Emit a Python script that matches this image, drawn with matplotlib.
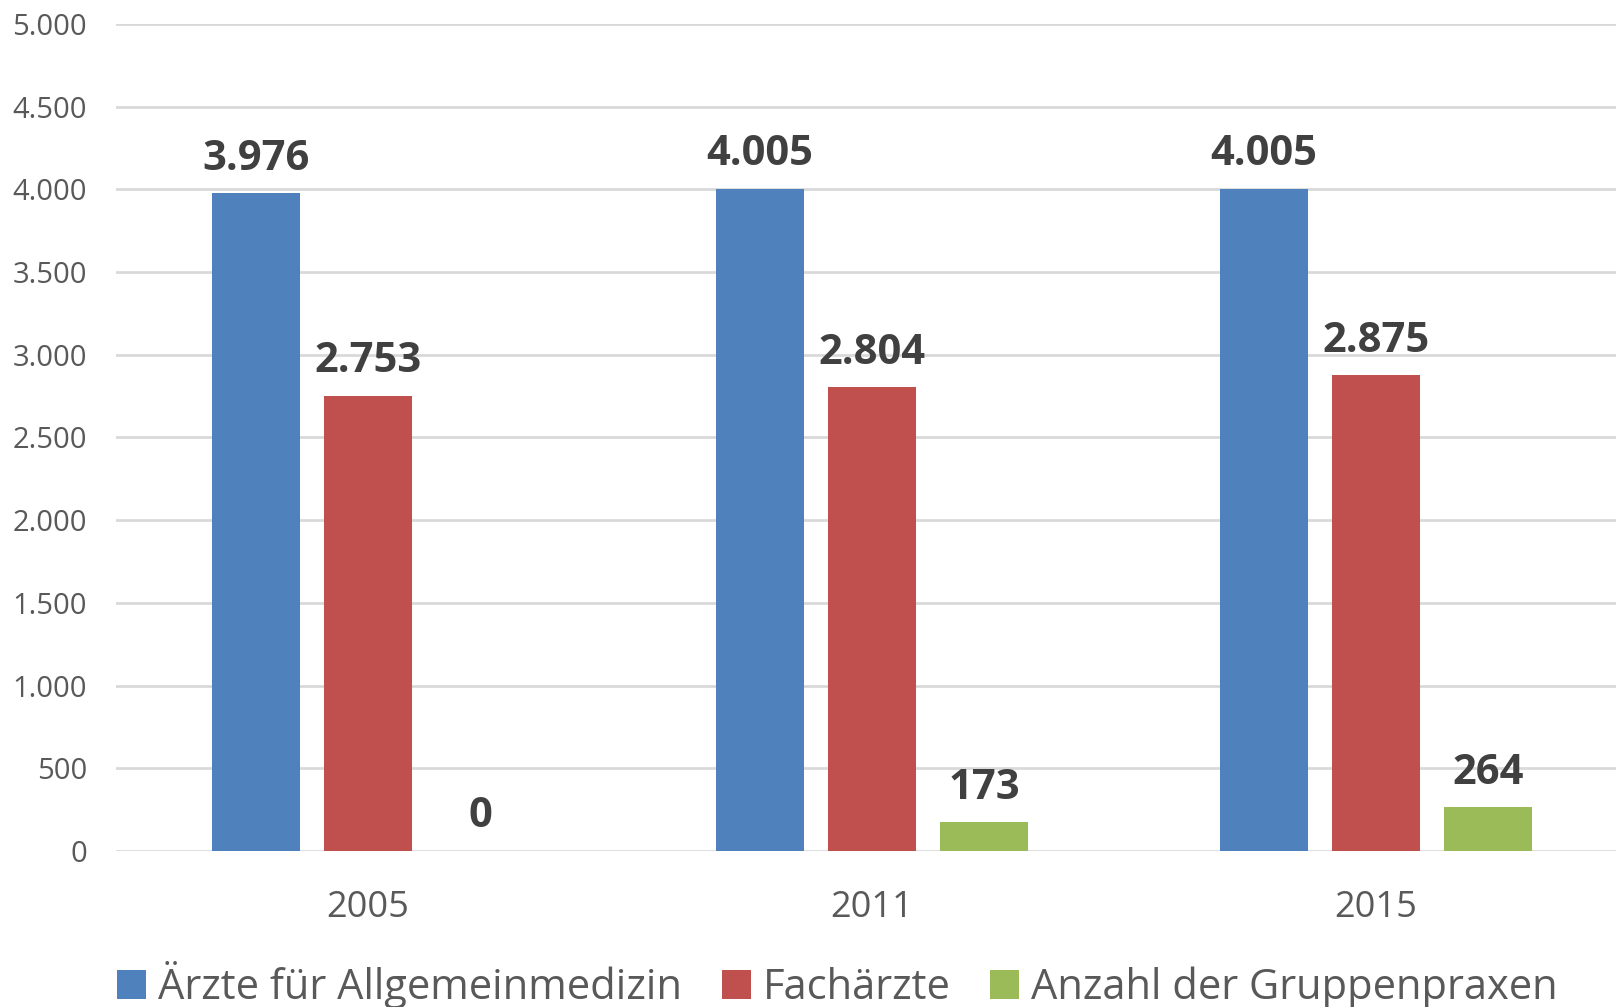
import numpy as np
import matplotlib
matplotlib.use("Agg")
from matplotlib import pyplot as plt
from matplotlib.patches import Patch

plt.rcParams['font.family'] = ['Open Sans', 'DejaVu Sans']

jahre = ['2005', '2011', '2015']
serien = ['Ärzte für Allgemeinmedizin', 'Fachärzte', 'Anzahl der Gruppenpraxen']
allgemein = [3976, 4005, 4005]
fachaerzte = [2753, 2804, 2875]
gruppenpraxen = [0, 173, 264]
farben = ['#4F81BD', '#C0504D', '#9BBB59']
yticks = [0, 500, 1000, 1500, 2000, 2500, 3000, 3500, 4000, 4500, 5000]

def fmt(v):
    return f'{v:,}'.replace(',', '.')

fig = plt.figure(figsize=(16.16, 10.07), dpi=100)
W, H = 1616, 1007
ax = fig.add_axes([116 / W, 156 / H, 1500 / W, 827 / H])

x = np.arange(len(jahre))
breite = 0.1746
abstand = 0.2222
for i, (werte, farbe) in enumerate(zip([allgemein, fachaerzte, gruppenpraxen], farben)):
    pos = x + (i - 1) * abstand
    ax.bar(pos, werte, width=breite, color=farbe, zorder=3)
    for p, v in zip(pos, werte):
        ax.annotate(fmt(v), (p, v), xytext=(0, 17), textcoords='offset points',
                    ha='center', va='baseline', fontsize=30, fontweight='bold',
                    color='#404040')

ax.set_xlim(-0.5, -0.5 + 1500 / 504)
ax.set_ylim(0, 5000)
ax.set_yticks(yticks)
ax.set_yticklabels([fmt(v) for v in yticks])
ax.set_xticks(x)
ax.set_xticklabels(jahre)
ax.grid(axis='y', color='#D9D9D9', linewidth=2, zorder=0)
for s in ax.spines.values():
    s.set_visible(False)
ax.tick_params(axis='y', length=0, pad=21, labelsize=21, labelcolor='#595959')
ax.tick_params(axis='x', length=0, pad=28, labelsize=26, labelcolor='#595959')

handles = [Patch(facecolor=f, edgecolor='none') for f in farben]
fig.legend(handles, serien, loc='lower left', bbox_to_anchor=(88 / W, -0.031),
           ncol=3, frameon=False, fontsize=30, labelcolor='#595959',
           handlelength=0.7, handleheight=0.7, handletextpad=0.28,
           columnspacing=0.95, borderpad=0.2)

fig.savefig('out.png', dpi=100)
